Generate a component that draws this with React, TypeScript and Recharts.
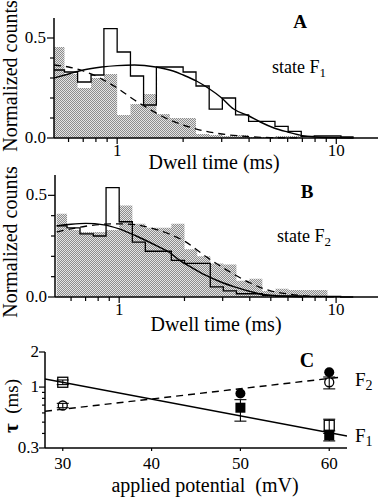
import React from 'react';
import { ComposedChart, Area, Line, Scatter, XAxis, YAxis, ErrorBar } from 'recharts';

const FONT = "'Liberation Serif', 'Times New Roman', 'DejaVu Serif', serif";

// histogram bin edges (ms), shared by panels A and B
const binEdges = [0.515, 0.575, 0.66, 0.76, 0.87, 1.0, 1.15, 1.32, 1.51, 1.74, 2.0, 2.29, 2.63, 3.02, 3.47, 3.98, 4.57, 5.25, 6.03, 6.92, 7.94, 9.12, 10.5, 12.0];

// panel A (state F1)
const shadedA = [0.455, 0.32, 0.25, 0.3, 0.32, 0.115, 0.17, 0.22, 0.12, 0.1, 0.1, 0.02, 0.015, 0.01, 0.015, 0.005, 0.005, 0.01, 0.01, 0, 0, 0, 0];
const openA = [0.34, 0.33, 0.28, 0.315, 0.547, 0.43, 0.31, 0.165, 0.355, 0.355, 0.33, 0.26, 0.144, 0.2, 0.116, 0.083, 0.083, 0.058, 0.033, 0.008, 0.01, 0.01, 0.005];
const fitSolidA = [[0.515, 0.3], [0.6, 0.32], [0.7, 0.34], [0.85, 0.355], [1.0, 0.362], [1.2, 0.365], [1.5, 0.355], [1.8, 0.335], [2.0, 0.315], [2.3, 0.285], [2.6, 0.25], [3.0, 0.2], [3.4, 0.145], [4.0, 0.11], [4.5, 0.08], [5.2, 0.05], [6.0, 0.03], [7.0, 0.012], [8.0, 0.005], [10, 0.001], [12, 0]];
const fitDashA = [[0.515, 0.365], [0.6, 0.355], [0.7, 0.335], [0.8, 0.31], [0.9, 0.28], [1.0, 0.25], [1.2, 0.19], [1.4, 0.145], [1.7, 0.095], [2.0, 0.065], [2.5, 0.035], [3.0, 0.02], [4.0, 0.007], [5.0, 0.002], [7.0, 0]];

// panel B (state F2)
const shadedB = [0.41, 0.33, 0.32, 0.32, 0.33, 0.45, 0.36, 0.34, 0.34, 0.36, 0.235, 0.2, 0.165, 0.16, 0.08, 0.09, 0.03, 0.04, 0.035, 0.035, 0.035, 0, 0];
const openB = [0.35, 0.34, 0.31, 0.3, 0.538, 0.37, 0.27, 0.225, 0.225, 0.18, 0.165, 0.165, 0.05, 0.03, 0.016, 0.016, 0.008, 0.005, 0.005, 0.003, 0.003, 0.003, 0];
const fitSolidB = [[0.515, 0.35], [0.6, 0.358], [0.7, 0.362], [0.85, 0.355], [1.0, 0.335], [1.2, 0.3], [1.5, 0.25], [1.7, 0.22], [1.9, 0.18], [2.2, 0.14], [2.5, 0.107], [3.0, 0.07], [3.4, 0.05], [4.0, 0.028], [4.4, 0.016], [5.0, 0.008], [6.0, 0.003], [7.0, 0]];
const fitDashB = [[0.515, 0.32], [0.6, 0.335], [0.7, 0.348], [0.85, 0.358], [1.0, 0.36], [1.2, 0.355], [1.5, 0.33], [1.7, 0.31], [2.0, 0.275], [2.5, 0.2], [3.0, 0.145], [3.4, 0.11], [4.0, 0.07], [4.4, 0.05], [5.0, 0.03], [6.0, 0.015], [7.0, 0.007], [8.5, 0.002], [10, 0]];

const histTicks = [0.6, 0.7, 0.8, 0.9, 1, 2, 3, 4, 5, 6, 7, 8, 9, 10];
const countTicks = [0, 0.1, 0.2, 0.3, 0.4, 0.5];

// panel C: tau vs applied potential
const potTicks = [30, 40, 50, 60];
const tauTicks = [0.3, 0.4, 0.5, 0.6, 0.7, 0.8, 0.9, 1, 2];
const openSqX = [30, 60];
const openSqY = [1.1, 0.47];
const openSqLo = [1.05, 0.42];
const openSqHi = [1.15, 0.53];
const fillSqX = [50, 60];
const fillSqY = [0.665, 0.385];
const fillSqLo = [0.51, 0.345];
const fillSqHi = [0.78, 0.4];
const openCirX = [30, 60];
const openCirY = [0.695, 1.1];
const openCirLo = [0.665, 0.965];
const openCirHi = [0.725, 1.22];
const fillCirX = [50, 60];
const fillCirY = [0.88, 1.34];
const fitF1 = [[28, 1.175], [62, 0.38]];
const fitF2 = [[28, 0.62], [61.4, 1.22]];

const toSteps = (h: number[]) => [
  ...h.map((y, i) => ({ x: binEdges[i], y })),
  { x: binEdges[h.length], y: h[h.length - 1] },
];
const toPts = (arr: number[][]) => arr.map(([x, y]) => ({ x, y }));
const toMarks = (xs: number[], ys: number[], lo?: number[], hi?: number[]) =>
  xs.map((x, i) => ({
    x,
    y: ys[i],
    err: lo && hi ? [ys[i] - lo[i], hi[i] - ys[i]] : [0, 0],
  }));

const txt = { fontFamily: FONT };

const LogTick = (p: any) => {
  const v = p.payload.value;
  const major = v === 1 || v === 10;
  return (
    <g>
      <line x1={p.x} x2={p.x} y1={p.y} y2={p.y + (major ? 6 : 4)} stroke="#000" strokeWidth={1.2} />
      {major && (
        <text x={p.x} y={p.y + 18} textAnchor="middle" fontSize={17} style={txt} fill="#000">
          {v}
        </text>
      )}
    </g>
  );
};

const CountTick = (p: any) => {
  const v = p.payload.value;
  const major = v === 0 || v === 0.5;
  return (
    <g>
      <line x1={p.x - (major ? 7 : 4)} x2={p.x} y1={p.y} y2={p.y} stroke="#000" strokeWidth={1.2} />
      {major && (
        <text x={p.x - 8} y={p.y + 5} textAnchor="end" fontSize={17} style={txt} fill="#000">
          {v.toFixed(1)}
        </text>
      )}
    </g>
  );
};

const TauTick = (p: any) => {
  const v = p.payload.value;
  const major = v === 0.3 || v === 1 || v === 2;
  return (
    <g>
      <line x1={p.x - (major ? 6 : 3)} x2={p.x} y1={p.y} y2={p.y} stroke="#000" strokeWidth={1.2} />
      {major && (
        <text x={p.x - 6} y={p.y + 5} textAnchor="end" fontSize={17} style={txt} fill="#000">
          {v}
        </text>
      )}
    </g>
  );
};

const PotTick = (p: any) => (
  <g>
    <line x1={p.x} x2={p.x} y1={p.y} y2={p.y + 3} stroke="#000" strokeWidth={1.2} />
    <text x={p.x} y={p.y + 21} textAnchor="middle" fontSize={17} style={txt} fill="#000">
      {p.payload.value}
    </text>
  </g>
);

const axisStyle = { stroke: '#000', strokeWidth: 1.5 };

function Histogram({ id, shaded, open, solid, dashed, domain, yWidth, xHeight, top }: any) {
  return (
    <div style={{ position: 'absolute', left: 0, top }}>
      <ComposedChart width={378} height={170} margin={{ top: 18, right: 0, bottom: 0, left: 0 }}>
        <defs>
          <pattern id={id} width="2" height="2" patternUnits="userSpaceOnUse">
            <rect width="2" height="2" fill="#e4e4e4" />
            <rect width="1" height="1" fill="#8c8c8c" />
            <rect x="1" y="1" width="1" height="1" fill="#8c8c8c" />
          </pattern>
        </defs>
        <XAxis
          dataKey="x"
          type="number"
          scale="log"
          domain={domain}
          allowDataOverflow
          ticks={histTicks}
          interval={0}
          tickSize={0}
          tickMargin={0}
          tickLine={false}
          tick={(p: any) => <LogTick {...p} />}
          axisLine={axisStyle}
          height={xHeight}
        />
        <YAxis
          type="number"
          domain={[0, 0.6]}
          ticks={countTicks}
          interval={0}
          width={yWidth}
          tickSize={0}
          tickMargin={0}
          tickLine={false}
          tick={(p: any) => <CountTick {...p} />}
          axisLine={axisStyle}
        />
        <Area data={toSteps(shaded)} dataKey="y" type="stepAfter" stroke="none" fill={`url(#${id})`} fillOpacity={1} isAnimationActive={false} />
        <Line data={toSteps(open)} dataKey="y" type="stepAfter" stroke="#000" strokeWidth={1.3} dot={false} isAnimationActive={false} />
        <Line data={toPts(solid)} dataKey="y" type="monotone" stroke="#000" strokeWidth={1.4} dot={false} isAnimationActive={false} />
        <Line data={toPts(dashed)} dataKey="y" type="monotone" stroke="#000" strokeWidth={1.3} strokeDasharray="7 5" dot={false} isAnimationActive={false} />
      </ComposedChart>
    </div>
  );
}

const OpenSquare = (p: any) => (
  <rect x={p.cx - 5} y={p.cy - 5} width={10} height={10} fill="none" stroke="#000" strokeWidth={1.3} />
);
const FilledSquare = (p: any) => <rect x={p.cx - 5} y={p.cy - 5} width={10} height={10} fill="#000" />;
const OpenCircle = (p: any) => <circle cx={p.cx} cy={p.cy} r={4.5} fill="none" stroke="#000" strokeWidth={1.3} />;
const FilledCircle = (p: any) => <circle cx={p.cx} cy={p.cy} r={5} fill="#000" />;

function TauPanel() {
  return (
    <div style={{ position: 'absolute', left: 0, top: 330 }}>
      <ComposedChart width={378} height={169} margin={{ top: 22, right: 31, bottom: 0, left: 0 }}>
        <XAxis
          dataKey="x"
          type="number"
          domain={[28, 62]}
          allowDataOverflow
          ticks={potTicks}
          interval={0}
          tickSize={0}
          tickMargin={0}
          tickLine={false}
          tick={(p: any) => <PotTick {...p} />}
          axisLine={axisStyle}
          height={51}
        />
        <YAxis
          dataKey="y"
          type="number"
          scale="log"
          domain={[0.3, 2]}
          allowDataOverflow
          ticks={tauTicks}
          interval={0}
          width={45}
          tickSize={0}
          tickMargin={0}
          tickLine={false}
          tick={(p: any) => <TauTick {...p} />}
          axisLine={axisStyle}
        />
        <Line data={toPts(fitF1)} dataKey="y" type="linear" stroke="#000" strokeWidth={1.4} dot={false} isAnimationActive={false} />
        <Line data={toPts(fitF2)} dataKey="y" type="linear" stroke="#000" strokeWidth={1.4} strokeDasharray="7 5" dot={false} isAnimationActive={false} />
        <Scatter data={toMarks(openSqX, openSqY, openSqLo, openSqHi)} shape={OpenSquare} isAnimationActive={false}>
          <ErrorBar dataKey="err" direction="y" width={6} stroke="#000" strokeWidth={1.1} />
        </Scatter>
        <Scatter data={toMarks(fillSqX, fillSqY, fillSqLo, fillSqHi)} shape={FilledSquare} isAnimationActive={false}>
          <ErrorBar dataKey="err" direction="y" width={6} stroke="#000" strokeWidth={1.1} />
        </Scatter>
        <Scatter data={toMarks(openCirX, openCirY, openCirLo, openCirHi)} shape={OpenCircle} isAnimationActive={false}>
          <ErrorBar dataKey="err" direction="y" width={6} stroke="#000" strokeWidth={1.1} />
        </Scatter>
        <Scatter data={toMarks(fillCirX, fillCirY)} shape={FilledCircle} isAnimationActive={false} />
      </ComposedChart>
    </div>
  );
}

export default function App() {
  const t = { style: txt, fill: '#000' };
  return (
    <div style={{ position: 'absolute', left: 0, top: 0, width: 378, height: 499, background: '#fff', overflow: 'hidden', fontFamily: FONT }}>
      <Histogram id="dotsA" top={0} shaded={shadedA} open={openA} solid={fitSolidA} dashed={fitDashA} domain={[0.515, 15.5]} yWidth={54} xHeight={32} />
      <Histogram id="dotsB" top={157} shaded={shadedB} open={openB} solid={fitSolidB} dashed={fitDashB} domain={[0.506, 15.6]} yWidth={55} xHeight={30} />
      <TauPanel />
      <svg width={378} height={499} style={{ position: 'absolute', left: 0, top: 0, pointerEvents: 'none' }}>
        <text {...t} fontSize={20} textAnchor="middle" transform="translate(17,76) rotate(-90)">Normalized counts</text>
        <text {...t} fontSize={20} textAnchor="middle" transform="translate(17,242) rotate(-90)">Normalized counts</text>
        <text fill="#000" style={{ ...txt, whiteSpace: 'pre' }} fontSize={19} textAnchor="start" transform="translate(18,433) rotate(-90)">
          <tspan fontSize={21} fontWeight="bold">τ</tspan>  (ms)
        </text>
        <text {...t} fontSize={20} x={214} y={169} textAnchor="middle">Dwell time (ms)</text>
        <text {...t} fontSize={20} x={216} y={331} textAnchor="middle">Dwell time (ms)</text>
        <text fill="#000" style={{ ...txt, whiteSpace: 'pre' }} fontSize={20} x={205} y={492} textAnchor="middle">applied potential  (mV)</text>
        <text {...t} fontSize={19} fontWeight="bold" x={300} y={28} textAnchor="middle">A</text>
        <text {...t} fontSize={19} fontWeight="bold" x={307} y={198} textAnchor="middle">B</text>
        <text {...t} fontSize={20} fontWeight="bold" x={307} y={367} textAnchor="middle">C</text>
        <text {...t} fontSize={18} x={272} y={73}>
          state F<tspan fontSize={13} dy={4}>1</tspan>
        </text>
        <text {...t} fontSize={18} x={277} y={242}>
          state F<tspan fontSize={13} dy={4}>2</tspan>
        </text>
        <text {...t} fontSize={19} x={355} y={386}>
          F<tspan fontSize={14} dy={4}>2</tspan>
        </text>
        <text {...t} fontSize={19} x={355} y={442}>
          F<tspan fontSize={14} dy={4}>1</tspan>
        </text>
      </svg>
    </div>
  );
}
